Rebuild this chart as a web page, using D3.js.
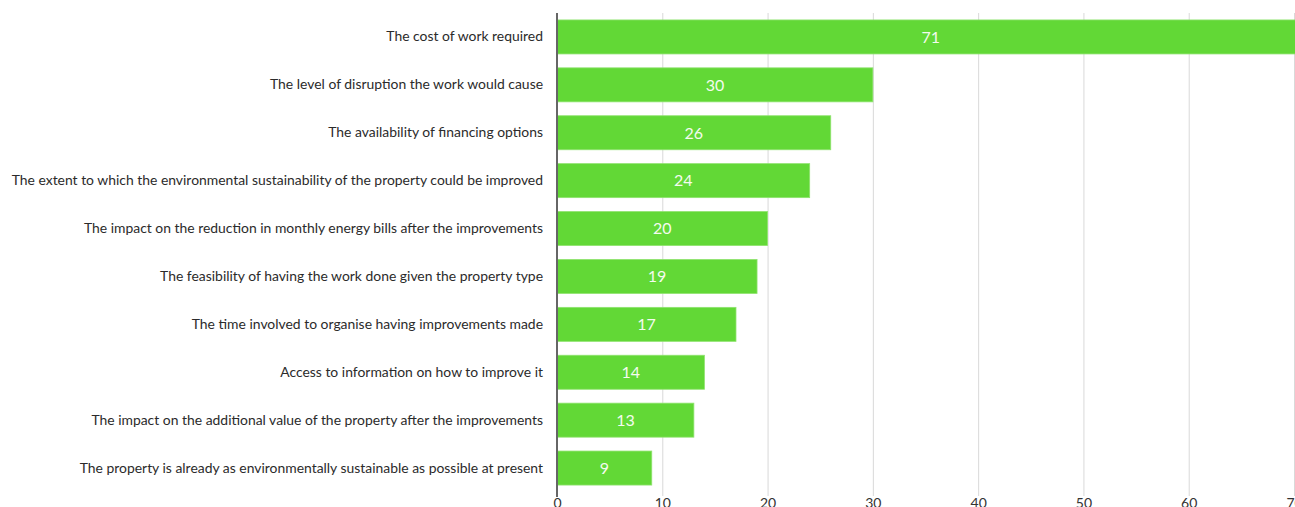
<!DOCTYPE html>
<html>
<head>
<meta charset="utf-8">
<script src="https://cdn.jsdelivr.net/npm/d3@7"></script>
<style>
  html, body { margin: 0; padding: 0; background: #ffffff; overflow: hidden; }
  svg { display: block; }
</style>
</head>
<body>
<svg id="chart" width="1295" height="507"></svg>
<script>
// Factors considered when making property improvements (counts)
const categories = [
  "The cost of work required",
  "The level of disruption the work would cause",
  "The availability of financing options",
  "The extent to which the environmental sustainability of the property could be improved",
  "The impact on the reduction in monthly energy bills after the improvements",
  "The feasibility of having the work done given the property type",
  "The time involved to organise having improvements made",
  "Access to information on how to improve it",
  "The impact on the additional value of the property after the improvements",
  "The property is already as environmentally sustainable as possible at present"
];
const values = [71, 30, 26, 24, 20, 19, 17, 14, 13, 9];
const tickValues = [0, 10, 20, 30, 40, 50, 60, 70];

const svg = d3.select("#chart");
const fontFamily = "Lato, 'Open Sans', sans-serif";

const plot = { left: 557, right: 1294, top: 13, bottom: 492 };

const x = d3.scaleLinear().domain([0, 70]).range([plot.left, plot.right]);
const y = d3.scaleBand()
  .domain(categories)
  .range([plot.top, plot.bottom])
  .paddingInner(0.29)
  .paddingOuter(0.145);

// Vertical gridlines
svg.append("g")
  .selectAll("line")
  .data(tickValues.filter(d => d > 0))
  .join("line")
  .attr("x1", d => x(d) + 0.5).attr("x2", d => x(d) + 0.5)
  .attr("y1", plot.top).attr("y2", plot.bottom + 4)
  .attr("stroke", "#d9d9d9")
  .attr("stroke-width", 1);

// Bars
svg.append("g")
  .selectAll("rect")
  .data(values)
  .join("rect")
  .attr("x", x(0))
  .attr("y", (d, i) => y(categories[i]))
  .attr("width", d => x(d) - x(0))
  .attr("height", y.bandwidth())
  .attr("fill", "#62d836")
  .attr("stroke", "#8fe36e")
  .attr("stroke-width", 0.8);

// Value labels centred on each bar
svg.append("g")
  .selectAll("text")
  .data(values)
  .join("text")
  .attr("x", d => (x(0) + x(d)) / 2)
  .attr("y", (d, i) => y(categories[i]) + y.bandwidth() / 2)
  .attr("dy", "0.36em")
  .attr("text-anchor", "middle")
  .attr("font-family", fontFamily)
  .attr("font-size", 16)
  .attr("fill", "#f4fbef")
  .text(d => d);

// Category axis
const yAxis = svg.append("g")
  .attr("transform", `translate(${plot.left},0)`)
  .call(d3.axisLeft(y).tickSize(0).tickPadding(14));
yAxis.select(".domain").remove();
const catLabels = yAxis.selectAll("text")
  .attr("font-family", fontFamily)
  .attr("font-size", 13)
  .attr("fill", "#2b2b2b");

// Fit the longest category label into the left margin
let widest = 0;
catLabels.each(function () { widest = Math.max(widest, this.getComputedTextLength()); });
const targetWidth = 532;
if (widest > 0) catLabels.attr("font-size", 13 * targetWidth / widest);

// Zero line
svg.append("line")
  .attr("x1", x(0)).attr("x2", x(0))
  .attr("y1", plot.top).attr("y2", plot.bottom + 5)
  .attr("stroke", "#666666")
  .attr("stroke-width", 2);

// Value axis labels
const xAxis = svg.append("g")
  .attr("transform", `translate(0,${plot.bottom})`)
  .call(d3.axisBottom(x).tickValues(tickValues).tickSize(0).tickPadding(6));
xAxis.select(".domain").remove();
xAxis.selectAll("text")
  .attr("font-family", fontFamily)
  .attr("font-size", 14)
  .attr("fill", "#333333");
</script>
</body>
</html>
